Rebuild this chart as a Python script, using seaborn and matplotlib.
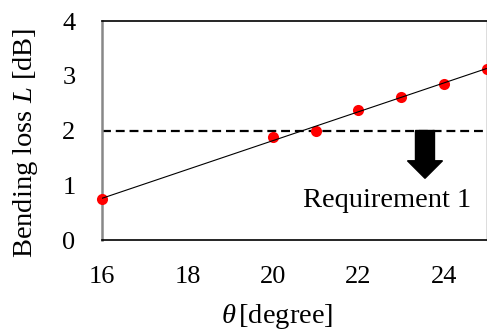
import numpy as np
import pandas as pd
import matplotlib
matplotlib.use("Agg")
import matplotlib.pyplot as plt
import seaborn as sns

theta = [16, 20, 21, 22, 23, 24, 25]
loss = [0.75, 1.88, 1.99, 2.38, 2.62, 2.85, 3.13]
requirement_level = 2.0
x_ticks = [16, 18, 20, 22, 24]
y_ticks = [0, 1, 2, 3, 4]
annotation_text = "Requirement 1"

df = pd.DataFrame({"theta": theta, "loss": loss})

sns.set_theme(style="white")
plt.rcParams["font.family"] = ["Liberation Serif", "DejaVu Serif"]
plt.rcParams["mathtext.fontset"] = "custom"
plt.rcParams["mathtext.rm"] = "Liberation Serif"
plt.rcParams["mathtext.it"] = "Liberation Serif:italic"
for key in ["text.color", "axes.labelcolor", "xtick.labelcolor", "ytick.labelcolor"]:
    plt.rcParams[key] = "black"

fig = plt.figure(figsize=(4.87, 3.36), dpi=100)
ax = fig.add_axes([0.2094, 0.2857, 0.7896, 0.6518])

sns.regplot(data=df, x="theta", y="loss", ci=None, ax=ax,
            scatter_kws={"color": "#ff0000", "s": 64, "linewidths": 0,
                         "clip_on": False, "alpha": 1, "zorder": 3},
            line_kws={"color": "black", "lw": 0.8, "zorder": 4})

ax.axhline(requirement_level, color="black", lw=1.6, dashes=(4, 2.2), zorder=2)

ax.arrow(23.56, requirement_level, 0, -0.873, width=0.445, head_width=0.82,
         head_length=0.32, length_includes_head=True, color="black", zorder=5)
ax.text(22.67, 0.61, annotation_text, ha="center", va="baseline", fontsize=20.5,
        color="black")

ax.set_xlim(16, 25)
ax.set_ylim(0, 4)
ax.set_xticks(x_ticks)
ax.set_yticks(y_ticks)
ax.tick_params(axis="x", direction="in", length=7, width=1, color="black",
               labelsize=19, pad=18.5, labelcolor="black")
ax.tick_params(axis="y", direction="in", length=7, width=1.5, color="#999999",
               labelsize=19, pad=19, labelcolor="black")

for side in ["top", "bottom"]:
    ax.spines[side].set_color("black")
    ax.spines[side].set_linewidth(1.2)
ax.spines["right"].set_color("#555555")
ax.spines["right"].set_linewidth(1.0)
ax.spines["left"].set_color("#888888")
ax.spines["left"].set_linewidth(1.8)

ax.set_xlabel(r"$\theta\,$[degree]", fontsize=20.5, color="black")
ax.set_ylabel(r"Bending loss $L$ [dB]", fontsize=20.5, color="black")
ax.xaxis.set_label_coords(0.455, -0.285)
ax.yaxis.set_label_coords(-0.16, 0.445)

fig.savefig("out.png", dpi=100)
